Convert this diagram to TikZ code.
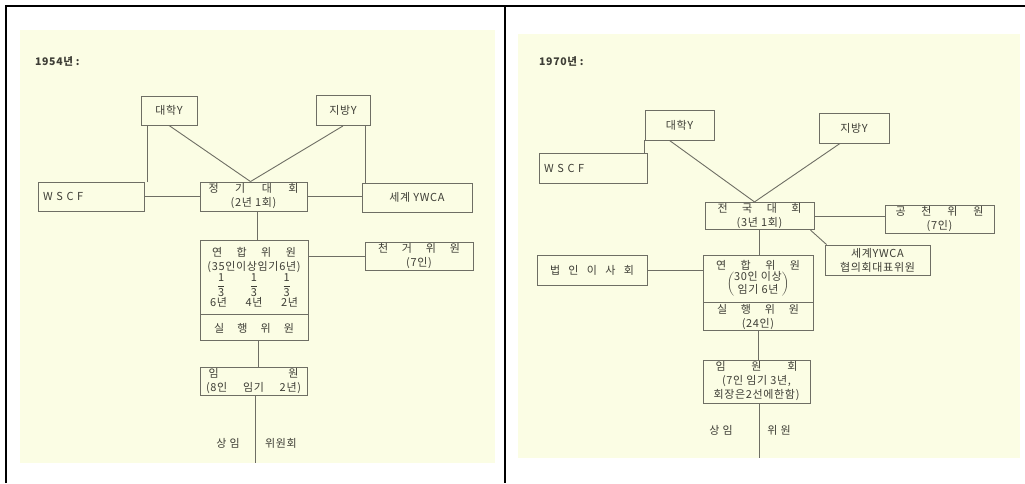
\documentclass[tikz,border=0pt]{standalone}
\usepackage{fontspec}
\usepackage{tikz}
\usetikzlibrary{positioning}
\newfontfamily\kr{Noto Sans CJK KR}[LetterSpace=6]
\definecolor{scan}{RGB}{251,253,228}
\definecolor{ink}{RGB}{62,62,54}
\definecolor{rule}{RGB}{110,110,100}
\newcommand{\sprd}[2]{\makebox[#1][s]{#2}}
\newcommand{\third}{$\displaystyle\frac{\mbox{1}}{\mbox{3}}$}

\begin{document}
\begin{tikzpicture}[x=1pt,y=-1pt,
	box/.style={draw=rule,line width=0.9pt,inner sep=1pt,align=center,text=ink,font=\kr\fontsize{11}{14}\selectfont},
	link/.style={draw=rule,line width=0.9pt},
	lbl/.style={inner sep=0pt,text=ink,font=\kr\fontsize{11}{14}\selectfont},
	yr/.style={inner sep=0pt,anchor=west,text=ink,font=\kr\bfseries\fontsize{10.5}{12}\selectfont}]
	\useasboundingbox (0,0) rectangle (1025,483);
	
	% bản quét (nền vàng)
	\fill[scan] (20,30) rectangle (495,463);
	\fill[scan] (518,34) rectangle (1020,458);
	
	% khung bảng
	\draw[line width=1.6pt] (6,483) -- (6,6) -- (1025,6);
	\draw[line width=1.6pt] (505,6) -- (505,483);
	
	% 1954년
	\node[yr] (y54) at (35,61) {1954년 :};
	\node[box,minimum width=56pt,minimum height=29pt] (dY1) at (169,110.5) {대학Y};
	\node[box,minimum width=54pt,minimum height=30pt] (jY1) at (343,110.5) {지방Y};
	\node[box,text width=96pt,inner xsep=5pt,align=left,minimum height=29pt] (wscf1) at (91,196.5) {\sprd{64pt}{W S C F}};
	\node[box,minimum width=107pt,minimum height=29pt] (jg1) at (253.5,196.5) {\sprd{90pt}{정 기 대 회}\\(2년 1회)};
	\node[box,minimum width=110pt,minimum height=29pt] (ywca1) at (417,197.5) {세계 YWCA};
	\node[box,minimum width=108pt,minimum height=74pt] (yh1) at (254,277) {\sprd{84pt}{연 합 위 원}\\(35인이상임기6년)\\
		\sprd{74pt}{\third{} \third{} \third}\\\sprd{88pt}{6년 4년 2년}};
	\node[box,minimum width=108pt,minimum height=26pt,below=0pt of yh1] (sh1) {\sprd{80pt}{실 행 위 원}};
	\node[box,minimum width=108pt,minimum height=28pt] (cg1) at (419,256) {\sprd{82pt}{천 거 위 원}\\(7인)};
	\node[box,minimum width=107pt,minimum height=28pt] (im1) at (253.5,381) {\sprd{90pt}{임 원}\\\sprd{95pt}{(8인 임기 2년)}};
	\coordinate (end1) at (255,463);
	\node[lbl] (si1) at (228,443) {상 임};
	\node[lbl] (wh1) at (281,443) {위원회};
	
	\draw[link] ([xshift=7pt]dY1.south west) -- ([xshift=7pt]dY1.south west |- wscf1.north);
	\draw[link] ([xshift=-5pt]jY1.south east) -- ([xshift=-5pt]jY1.south east |- ywca1.north);
	\draw[link] (dY1.south) -- ([xshift=-3pt]jg1.north);
	\draw[link] (jY1.south) -- ([xshift=-3pt]jg1.north);
	\draw[link] (wscf1.east) -- (jg1.west);
	\draw[link] (jg1.east) -- (jg1.east -| ywca1.west);
	\draw[link] ([xshift=4pt]jg1.south) -- ([xshift=4pt]jg1.south |- yh1.north);
	\draw[link] (cg1.west -| yh1.east) -- (cg1.west);
	\draw[link] ([xshift=4pt]sh1.south) -- ([xshift=4pt]sh1.south |- im1.north);
	\draw[link] (im1.south -| end1) -- (end1);
	
	% 1970년
	\node[yr] (y70) at (539,61) {1970년 :};
	\node[box,minimum width=69pt,minimum height=30pt] (dY2) at (679.5,125) {대학Y};
	\node[box,minimum width=70pt,minimum height=30pt] (jY2) at (854,128) {지방Y};
	\node[box,text width=98pt,inner xsep=5pt,align=left,minimum height=30pt] (wscf2) at (593,168) {\sprd{68pt}{W S C F}};
	\node[box,minimum width=109pt,minimum height=27pt] (jk2) at (759.5,216) {\sprd{84pt}{전 국 대 회}\\(3년 1회)};
	\node[box,minimum width=109pt,minimum height=28pt] (gc2) at (939.5,219) {\sprd{88pt}{공 천 위 원}\\(7인)};
	\node[box,minimum width=105pt,minimum height=30pt] (sg2) at (877.5,260) {세계YWCA\\협의회대표위원};
	\node[box,minimum width=110pt,minimum height=30pt] (bi2) at (592,270) {\sprd{84pt}{법 인 이 사 회}};
	\node[box,minimum width=110pt,minimum height=47pt] (yh2) at (758,278.5) {\sprd{84pt}{연 합 위 원}\\
		$\left(\renewcommand{\arraystretch}{0.9}\begin{tabular}{@{}c@{}}30인 이상\\임기 6년\end{tabular}\right)$};
	\node[box,minimum width=110pt,minimum height=28pt,below=0pt of yh2] (sh2) {\sprd{82pt}{실 행 위 원}\\(24인)};
	\node[box,minimum width=107pt,minimum height=43pt] (im2) at (756.5,381.5) {\sprd{82pt}{임 원 회}\\(7인 임기 3년,\\회장은2선에한함)};
	\coordinate (end2) at (759,458);
	\node[lbl] (si2) at (721,430) {상 임};
	\node[lbl] (wh2) at (779,430) {위 원};
	
	\draw[link] (dY2.south west) -- (dY2.south west |- wscf2.north);
	\draw[link] ([xshift=-10pt]dY2.south) -- ([xshift=-5pt]jk2.north);
	\draw[link] ([xshift=-14pt]jY2.south) -- ([xshift=-5pt]jk2.north);
	\draw[link] (jk2.east) -- (jk2.east -| gc2.west);
	\draw[link] ([xshift=-4pt]jk2.south east) -- ([xshift=2pt]sg2.north west);
	\draw[link] (jk2.south) -- (jk2.south |- yh2.north);
	\draw[link] (bi2.east) -- (bi2.east -| yh2.west);
	\draw[link] (sh2.south) -- (sh2.south |- im2.north);
	\draw[link] (im2.south -| end2) -- (end2);
\end{tikzpicture}
\end{document}
